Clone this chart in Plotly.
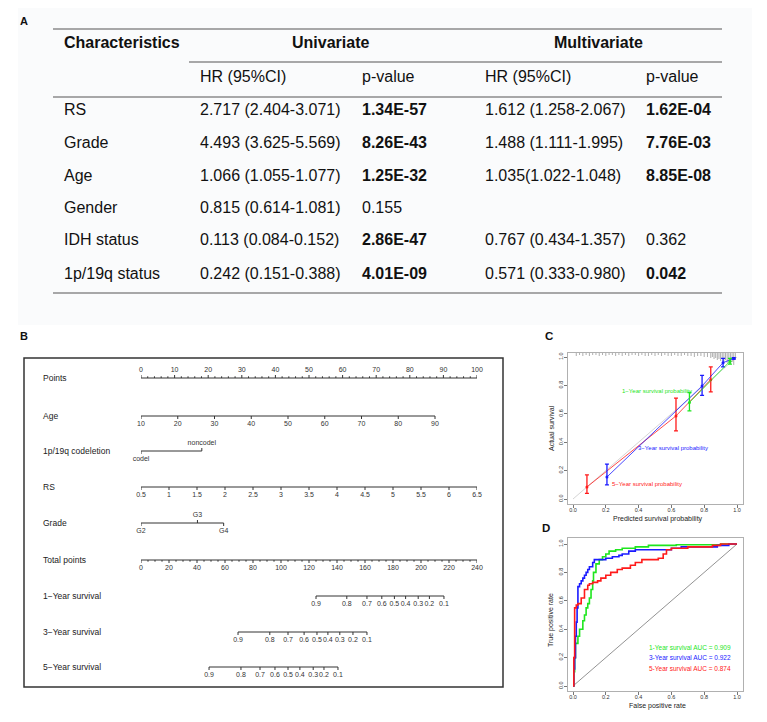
import plotly.graph_objects as go

W, H = 767, 722
FONT = "Liberation Sans, Arial, Helvetica, sans-serif"

# ---------------- Panel A: Cox regression table ----------------
table_headers = ["Characteristics", "Univariate", "Multivariate"]
sub_headers = ["HR (95%CI)", "p-value", "HR (95%CI)", "p-value"]
characteristics = ["RS", "Grade", "Age", "Gender", "IDH status", "1p/19q status"]
uni_hr = ["2.717 (2.404-3.071)", "4.493 (3.625-5.569)", "1.066 (1.055-1.077)",
          "0.815 (0.614-1.081)", "0.113 (0.084-0.152)", "0.242 (0.151-0.388)"]
uni_p = ["1.34E-57", "8.26E-43", "1.25E-32", "0.155", "2.86E-47", "4.01E-09"]
multi_hr = ["1.612 (1.258-2.067)", "1.488 (1.111-1.995)", "1.035(1.022-1.048)",
            "", "0.767 (0.434-1.357)", "0.571 (0.333-0.980)"]
multi_p = ["1.62E-04", "7.76E-03", "8.85E-08", "", "0.362", "0.042"]

# ---------------- Panel B: nomogram ----------------
points_ticks = [0, 10, 20, 30, 40, 50, 60, 70, 80, 90, 100]
age_ticks = [10, 20, 30, 40, 50, 60, 70, 80, 90]
age_max_points = 87.5
codel_levels = ["codel", "noncodel"]
codel_points = [0, 18.1]
rs_ticks = [0.5, 1, 1.5, 2, 2.5, 3, 3.5, 4, 4.5, 5, 5.5, 6, 6.5]
rs_labels = ["0.5", "1", "1.5", "2", "2.5", "3", "3.5", "4", "4.5", "5", "5.5", "6", "6.5"]
grade_levels = ["G2", "G3", "G4"]
grade_points = [0, 16.8, 24.6]
total_ticks = [0, 20, 40, 60, 80, 100, 120, 140, 160, 180, 200, 220, 240]
surv_probs = ["0.9", "0.8", "0.7", "0.6", "0.5", "0.4", "0.3", "0.2", "0.1"]
surv1_total = [125, 147, 161.4, 172, 181, 189, 198, 206, 216.4]
surv3_total = [69.3, 92, 105, 116.5, 125.7, 133.5, 142, 151.4, 161.4]
surv5_total = [48.6, 71.4, 85, 95.7, 105, 113.5, 123, 130.7, 140.7]

# ---------------- Panel C: calibration ----------------
cal5_pred = [0.085, 0.628, 0.84]
cal5_obs = [0.085, 0.585, 0.84]
cal5_lo = [0.04, 0.48, 0.755]
cal5_hi = [0.17, 0.71, 0.93]
cal3_pred = [0.207, 0.787, 0.915, 0.98]
cal3_obs = [0.155, 0.796, 0.96, 0.99]
cal3_lo = [0.10, 0.73, 0.93, 0.985]
cal3_hi = [0.245, 0.87, 0.99, 0.995]
cal1_pred = [0.71, 0.957]
cal1_obs = [0.68, 0.97]
cal1_lo = [0.62, 0.95]
cal1_hi = [0.75, 0.99]
rug_x = [0.02, 0.04, 0.06, 0.08, 0.10, 0.12, 0.14, 0.16, 0.18, 0.20, 0.22, 0.24, 0.26,
         0.28, 0.30, 0.32, 0.34, 0.36, 0.38, 0.40, 0.42, 0.44, 0.46, 0.48, 0.50, 0.52,
         0.54, 0.56, 0.58, 0.60, 0.62, 0.64, 0.66, 0.68, 0.70, 0.72, 0.74, 0.76, 0.78,
         0.80, 0.82, 0.84, 0.85, 0.86, 0.87, 0.88, 0.89, 0.90, 0.91, 0.92, 0.93, 0.94,
         0.95, 0.96, 0.97, 0.98, 0.99]
rug_count = [2, 1, 2, 1, 2, 1, 1, 2, 1, 2, 1, 1, 2, 1, 2, 1, 2, 1, 1, 2, 1, 2, 2, 1, 2, 1,
             2, 1, 2, 2, 1, 2, 2, 1, 2, 2, 3, 2, 2, 3, 3, 4, 3, 5, 4, 6, 5, 7, 4, 8, 6, 9,
             7, 10, 8, 11, 6]

# ---------------- Panel D: ROC ----------------
roc1_fpr = [0, 0.005, 0.01, 0.015, 0.03, 0.04, 0.06, 0.07, 0.08, 0.09, 0.10, 0.11, 0.12,
            0.125, 0.14, 0.16, 0.18, 0.20, 0.22, 0.26, 0.30, 0.34, 0.38, 0.46, 0.63, 0.9, 1.0]
roc1_tpr = [0, 0.10, 0.20, 0.30, 0.35, 0.40, 0.46, 0.50, 0.55, 0.58, 0.62, 0.68, 0.74,
            0.80, 0.86, 0.89, 0.91, 0.93, 0.95, 0.96, 0.97, 0.97, 0.98, 0.99, 0.995, 1.0, 1.0]
roc3_fpr = [0, 0.005, 0.01, 0.015, 0.02, 0.025, 0.03, 0.04, 0.05, 0.06, 0.07, 0.08, 0.09,
            0.10, 0.12, 0.13, 0.16, 0.20, 0.24, 0.28, 0.30, 0.34, 0.38, 0.50, 0.60, 0.66,
            0.80, 0.88, 0.95, 1.0]
roc3_tpr = [0, 0.12, 0.20, 0.35, 0.45, 0.55, 0.70, 0.72, 0.74, 0.76, 0.78, 0.80, 0.82,
            0.84, 0.87, 0.89, 0.89, 0.90, 0.91, 0.92, 0.93, 0.95, 0.96, 0.96, 0.97, 0.98,
            0.98, 0.99, 1.0, 1.0]
roc5_fpr = [0, 0.005, 0.01, 0.02, 0.03, 0.05, 0.07, 0.09, 0.10, 0.12, 0.15, 0.17, 0.20,
            0.23, 0.27, 0.30, 0.35, 0.38, 0.42, 0.50, 0.52, 0.55, 0.57, 0.60, 0.70, 0.85,
            0.90, 1.0]
roc5_tpr = [0, 0.20, 0.55, 0.57, 0.58, 0.62, 0.68, 0.71, 0.72, 0.73, 0.74, 0.76, 0.78,
            0.80, 0.82, 0.83, 0.85, 0.87, 0.89, 0.89, 0.90, 0.93, 0.96, 0.97, 0.98, 0.99,
            1.0, 1.0]
auc_labels = ["1-Year survival AUC = 0.909", "3-Year survival AUC = 0.922",
              "5-Year survival AUC = 0.874"]

GREEN, BLUE, RED = "#1ee61e", "#1a1aff", "#ff1a1a"

fig = go.Figure()
ann, shapes = [], []


def px(x):
    return x / W


def py(y):
    return 1 - y / H


def text(x, y, s, size, color="#111", xanchor="left", bold=False, angle=0):
    if bold:
        s = "<b>" + s + "</b>"
    ann.append(dict(x=px(x), y=py(y), xref="paper", yref="paper", text=s,
                    showarrow=False, xanchor=xanchor, yanchor="middle", textangle=angle,
                    font=dict(size=size, color=color, family=FONT)))


def hline(x0, x1, y, color="#555", width=1.2):
    shapes.append(dict(type="line", xref="paper", yref="paper", x0=px(x0), x1=px(x1),
                       y0=py(y), y1=py(y), line=dict(color=color, width=width)))


# ---- Panel A drawing ----
shapes.append(dict(type="rect", xref="paper", yref="paper", x0=px(18), x1=px(752),
                   y0=py(8), y1=py(325), fillcolor="#fafbfc", line=dict(width=0),
                   layer="below"))
text(18, 21, "A", 11, bold=True)
hline(53, 722, 29)
hline(189, 722, 62)
hline(53, 722, 97)
hline(53, 722, 293)
text(62, 42, table_headers[0], 16, bold=True)
text(330, 42, table_headers[1], 16, bold=True, xanchor="center")
text(598, 42, table_headers[2], 16, bold=True, xanchor="center")
col_x = [62, 198, 360, 483, 644]
for cx, s in zip(col_x[1:], sub_headers):
    text(cx, 77, s, 16)
row_y = [110, 142, 175, 207, 240, 273]
for i, ry in enumerate(row_y):
    vals = [characteristics[i], uni_hr[i], uni_p[i], multi_hr[i], multi_p[i]]
    for j, (cx, s) in enumerate(zip(col_x, vals)):
        if not s:
            continue
        bold = j in (2, 4) and float(s) < 0.05
        text(cx, ry, s, 16, bold=bold)

# ---- Panel B drawing ----
text(18, 336, "B", 11, bold=True)
shapes.append(dict(type="rect", xref="paper", yref="paper", x0=px(24), x1=px(503),
                   y0=py(358), y1=py(687), line=dict(color="#333", width=1.5)))

NCOL = "#333"


def nomo_row(name, y, xs, labels, above, minor=None, minor_up=None):
    text(41, y, name, 8.5, color="#222")
    fig.add_trace(go.Scatter(x=[min(xs), max(xs)], y=[y, y], mode="lines",
                             line=dict(color=NCOL, width=1), hoverinfo="skip",
                             xaxis="x", yaxis="y", showlegend=False))
    tx, ty = [], []
    for xv, ab in zip(xs, above):
        tx += [xv, xv, None]
        ty += [y, y - 3 if ab else y + 3, None]
    if minor:
        for xv in minor:
            tx += [xv, xv, None]
            ty += [y, y - 1.7 if minor_up else y + 1.7, None]
    fig.add_trace(go.Scatter(x=tx, y=ty, mode="lines", line=dict(color=NCOL, width=1),
                             hoverinfo="skip", xaxis="x", yaxis="y", showlegend=False))
    ly = [y - 8 if ab else y + 8 for ab in above]
    fig.add_trace(go.Scatter(x=list(xs), y=ly, mode="text", text=labels,
                             textposition="middle center", cliponaxis=False,
                             textfont=dict(size=7, color="#333", family=FONT),
                             hoverinfo="skip", xaxis="x", yaxis="y", showlegend=False))


def tot(t):
    return t * 100.0 / 240.0


nomo_row("Points", 378, points_ticks, [str(v) for v in points_ticks],
         [True] * len(points_ticks),
         minor=[v for v in range(0, 101, 2) if v % 10], minor_up=True)
age_pts = [(a - age_ticks[0]) / (age_ticks[-1] - age_ticks[0]) * age_max_points
           for a in age_ticks]
nomo_row("Age", 416, age_pts, [str(a) for a in age_ticks], [False] * len(age_ticks))
nomo_row("1p/19q codeletion", 451, codel_points, codel_levels, [False, True])
rs_pts = [(r - rs_ticks[0]) / (rs_ticks[-1] - rs_ticks[0]) * 100 for r in rs_ticks]
nomo_row("RS", 487, rs_pts, rs_labels, [False] * len(rs_ticks))
nomo_row("Grade", 523, grade_points, grade_levels, [False, True, False])
nomo_row("Total points", 560, [tot(t) for t in total_ticks],
         [str(t) for t in total_ticks], [False] * len(total_ticks),
         minor=[tot(v) for v in range(0, 241, 5) if v % 20], minor_up=False)
nomo_row("1\u2212Year survival", 596, [tot(t) for t in surv1_total], surv_probs,
         [False] * 9)
nomo_row("3\u2212Year survival", 632, [tot(t) for t in surv3_total], surv_probs,
         [False] * 9)
nomo_row("5\u2212Year survival", 667, [tot(t) for t in surv5_total], surv_probs,
         [False] * 9)

# ---- Panel C drawing ----
text(543, 336, "C", 11.5, bold=True)
C_TOP = 1.028
fig.add_trace(go.Scatter(x=[0, 1], y=[0, 1], mode="lines",
                         line=dict(color="#d5d5d5", width=1), hoverinfo="skip",
                         xaxis="x2", yaxis="y2", showlegend=False))
rx, ry_ = [], []
for xv, c in zip(rug_x, rug_count):
    rx += [xv, xv, None]
    ry_ += [C_TOP, C_TOP - (1 + c) * 0.007, None]
fig.add_trace(go.Scatter(x=rx, y=ry_, mode="lines", line=dict(color="#999", width=0.8),
                         hoverinfo="skip", xaxis="x2", yaxis="y2", showlegend=False))
for pred, obs, lo, hi, col in [(cal5_pred, cal5_obs, cal5_lo, cal5_hi, RED),
                               (cal3_pred, cal3_obs, cal3_lo, cal3_hi, BLUE),
                               (cal1_pred, cal1_obs, cal1_lo, cal1_hi, GREEN)]:
    fig.add_trace(go.Scatter(
        x=pred, y=obs, mode="lines+markers",
        line=dict(color=col, width=0.8), marker=dict(color=col, size=3),
        error_y=dict(type="data", symmetric=False,
                     array=[h - o for h, o in zip(hi, obs)],
                     arrayminus=[o - l for o, l in zip(obs, lo)],
                     color=col, thickness=1.3, width=2),
        hoverinfo="skip", xaxis="x2", yaxis="y2", showlegend=False))
text(657, 391, "1\u2212Year survival probability", 6, color=GREEN, xanchor="center")
text(673, 448, "3\u2212Year survival probability", 6, color=BLUE, xanchor="center")
text(647, 484, "5\u2212Year survival probability", 6, color=RED, xanchor="center")
text(658, 519, "Predicted survival probability", 7, color="#222", xanchor="center")
text(551, 428, "Actual survival", 7, color="#222", xanchor="center", angle=-90)

# ---- Panel D drawing ----
text(540, 528, "D", 11.5, bold=True)
fig.add_trace(go.Scatter(x=[0, 1], y=[0, 1], mode="lines",
                         line=dict(color="#777", width=0.8), hoverinfo="skip",
                         xaxis="x3", yaxis="y3", showlegend=False))
for fpr, tpr, col in [(roc1_fpr, roc1_tpr, GREEN), (roc3_fpr, roc3_tpr, BLUE),
                      (roc5_fpr, roc5_tpr, RED)]:
    fig.add_trace(go.Scatter(x=fpr, y=tpr, mode="lines",
                             line=dict(color=col, width=1.6, shape="hv"),
                             hoverinfo="skip", xaxis="x3", yaxis="y3", showlegend=False))
for s, yy, col in zip(auc_labels, [647, 657, 668], [GREEN, BLUE, RED]):
    text(647, yy, s, 6.5, color=col)
text(657, 706, "False positive rate", 7, color="#222", xanchor="center")
text(551, 620, "True positive rate", 7, color="#222", xanchor="center", angle=-90)

ticks01 = [0, 0.2, 0.4, 0.6, 0.8, 1.0]
tick01_txt = ["0.0", "0.2", "0.4", "0.6", "0.8", "1.0"]
ax_common = dict(showgrid=False, zeroline=False, showline=True, mirror=True,
                 linecolor="#b0b0b0", linewidth=1.3, ticks="outside", ticklen=3,
                 tickcolor="#777", tickwidth=0.8, tickvals=ticks01, ticktext=tick01_txt,
                 tickfont=dict(size=5.5, color="#333", family=FONT), fixedrange=True)
x_rng = [-5 / 164, 170 / 164]

fig.update_layout(
    width=W, height=H, autosize=False,
    margin=dict(l=0, r=0, t=0, b=0),
    paper_bgcolor="white", plot_bgcolor="rgba(0,0,0,0)",
    showlegend=False,
    xaxis=dict(domain=[px(141), px(477)], range=[0, 100], visible=False, fixedrange=True),
    yaxis=dict(domain=[0, 1], range=[H, 0], visible=False, fixedrange=True),
    xaxis2=dict(domain=[px(568), px(743)], range=x_rng, anchor="y2",
                ticklabelstandoff=-3, **ax_common),
    yaxis2=dict(domain=[py(504), py(353)], range=[-5 / 142, 146 / 142], anchor="x2",
                tickangle=-90, ticklabelstandoff=-1, **ax_common),
    xaxis3=dict(domain=[px(568), px(743)], range=x_rng, anchor="y3",
                ticklabelstandoff=-3, **ax_common),
    yaxis3=dict(domain=[py(691), py(538)], range=[-5 / 142, 148 / 142], anchor="x3",
                tickangle=-90, ticklabelstandoff=-1, **ax_common),
    annotations=ann, shapes=shapes,
    font=dict(family=FONT),
)

fig.write_html("out.html", config={"displayModeBar": False},
               post_script="document.body.style.margin='0';"
                           "document.body.style.overflow='hidden';")
